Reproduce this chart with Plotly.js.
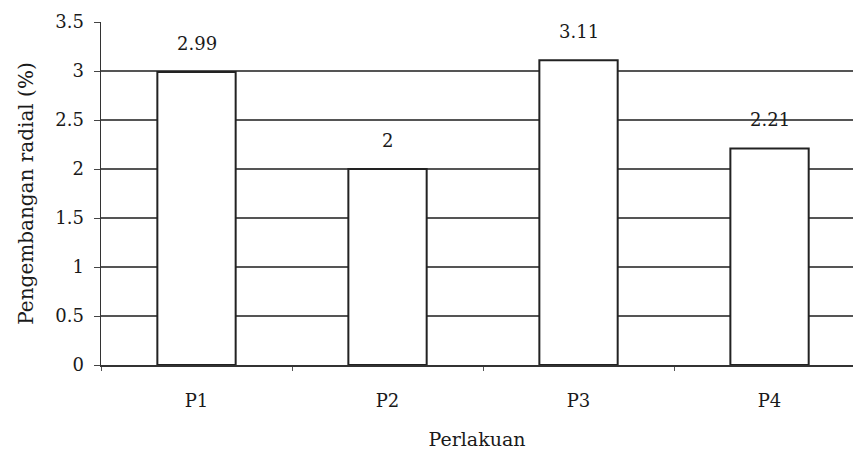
<!DOCTYPE html>
<html>
<head>
<meta charset="utf-8">
<script src="https://cdn.plot.ly/plotly-3.0.1.min.js"></script>
<style>
  html, body { margin: 0; padding: 0; background: #fff; }
  #chart { width: 853px; height: 458px; }
</style>
</head>
<body>
<div id="chart"></div>
<script>
// Radial expansion per treatment
const categories = ['P1', 'P2', 'P3', 'P4'];
const values = [2.99, 2, 3.11, 2.21];
const valueLabels = ['2.99', '2', '3.11', '2.21'];
const yTicks = [0, 0.5, 1, 1.5, 2, 2.5, 3, 3.5];
const yTickLabels = ['0', '0.5', '1', '1.5', '2', '2.5', '3', '3.5'];

const font = { family: 'DejaVu Serif, Liberation Serif, serif', size: 18, color: '#1a1a1a' };
const xTitleFont = { family: 'DejaVu Serif, Liberation Serif, serif', size: 19, color: '#1a1a1a' };
const yTitleFont = { family: 'DejaVu Serif, Liberation Serif, serif', size: 20, color: '#1a1a1a' };

const trace = {
  type: 'bar',
  x: categories,
  y: values,
  width: 0.41,
  marker: { color: '#ffffff', line: { color: '#222', width: 2 } },
  hoverinfo: 'skip'
};

const annotations = categories.map((c, i) => ({
  x: c,
  y: values[i],
  xref: 'x',
  yref: 'y',
  text: valueLabels[i],
  showarrow: false,
  yanchor: 'bottom',
  yshift: 16,
  font: font
}));

const layout = {
  width: 853,
  height: 458,
  margin: { l: 101, r: 0, t: 22, b: 93 },
  paper_bgcolor: '#fff',
  plot_bgcolor: '#fff',
  font: font,
  showlegend: false,
  xaxis: {
    type: 'category',
    range: [-0.5, 3.437],
    showline: true,
    linecolor: '#333',
    linewidth: 1.5,
    ticks: 'outside',
    tickson: 'boundaries',
    ticklen: 4,
    tickcolor: '#555',
    showgrid: false,
    tickfont: font,
    ticklabelstandoff: 19,
    title: { text: 'Perlakuan', font: xTitleFont, standoff: 22 }
  },
  yaxis: {
    range: [0, 3.5],
    tickvals: yTicks,
    ticktext: yTickLabels,
    showline: true,
    linecolor: '#333',
    linewidth: 1.5,
    ticks: 'outside',
    ticklen: 6,
    tickcolor: '#444',
    showgrid: true,
    gridcolor: '#555',
    gridwidth: 1.5,
    zeroline: false,
    tickfont: font,
    ticklabelstandoff: 6,
    title: { text: 'Pengembangan radial (%)', font: yTitleFont, standoff: 16 }
  },
  annotations: annotations
};

Plotly.newPlot('chart', [trace], layout, { staticPlot: true, displayModeBar: false });
</script>
</body>
</html>
